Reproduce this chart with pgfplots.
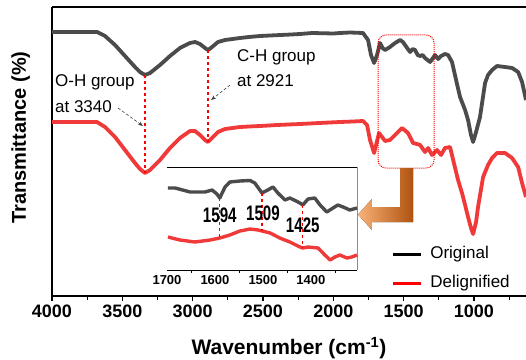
\documentclass[border=0pt]{standalone}
\usepackage{fontspec}
\setmainfont{Liberation Sans}
\usepackage{pgfplots}
\pgfplotsset{compat=1.18}
\usetikzlibrary{arrows.meta}
\definecolor{orig}{RGB}{75,75,75}
\definecolor{delig}{RGB}{240,58,58}
\definecolor{orgL}{RGB}{248,178,120}
\definecolor{orgD}{RGB}{176,82,14}
\begin{document}
\begin{tikzpicture}
\begin{axis}[
  at={(0pt,0pt)}, anchor=south west,
  scale only axis, width=474pt, height=289pt,
  x dir=reverse, xmin=630, xmax=4000, ymin=-296, ymax=-7,
  axis x line=box, axis y line=left,
  axis line style={-, line width=2.2pt},
  xtick={1000,1500,...,4000}, minor xtick={750,1250,...,3750},
  xtick pos=left, tick align=outside, major tick length=5pt, minor tick length=4pt,
  tick style={line width=1.2pt, black},
  ytick=\empty,
  xticklabel style={font=\fontsize{18}{21}\selectfont\bfseries},
  /pgf/number format/assume math mode=true, /pgf/number format/1000 sep={},
  xlabel={Wavenumber (cm\textsuperscript{-1})},
  every axis x label/.style={at={(axis description cs:0.5,-0.204)}, anchor=base, font=\fontsize{21}{24}\selectfont\bfseries},
  ylabel={Transmittance (\%)},
  every axis y label/.style={at={(axis description cs:-0.0549,0.548)}, rotate=90, anchor=base, font=\fontsize{20}{23}\selectfont\bfseries},
  clip=false,
  legend image code/.code={\draw[#1, line width=3pt] (0pt,0pt) -- (28pt,0pt);},
  legend style={draw=none, fill=none, inner sep=0pt, at={(axis cs:1589,-245)}, anchor=north west,
    font=\fontsize{17}{20}\selectfont, row sep=11pt,
    nodes={inner sep=1pt, text height=12pt, text depth=4pt},
    /tikz/every odd column/.append style={column sep=7pt},
    /tikz/every even column/.append style={column sep=16pt}},
  legend cell align=left,
]
\addlegendimage{black}
\addlegendimage{red}
\addplot[orig, line width=3.8pt, line join=round, forget plot] coordinates {
(4000,-32) (3680,-32) (3623,-36) (3552,-45) (3481,-56) (3410,-67) (3374,-72) (3339,-75) (3303,-73) (3232,-65) (3161,-56) (3090,-48) (3019,-43) (2983,-42) (2948,-44) (2912,-48) (2891,-50) (2862,-47) (2820,-42) (2770,-40) (2663,-38) (2600,-37) (2521,-36) (2450,-35.5) (2300,-34.5) (2237,-34) (2150,-33) (2000,-33.5) (1952,-33) (1880,-32.5) (1789,-33) (1753,-40) (1732,-55) (1710,-63) (1689,-55) (1668,-43) (1650,-48) (1632,-50) (1597,-47) (1561,-43) (1525,-40) (1505,-42) (1490,-45) (1470,-49) (1454,-52) (1435,-49) (1419,-50) (1400,-55) (1383,-56) (1365,-55) (1348,-58) (1330,-60) (1312,-62) (1291,-58) (1277,-55) (1255,-59) (1234,-56) (1206,-54) (1184,-55) (1156,-62) (1127,-80) (1099,-97) (1063,-110) (1042,-120) (1021,-135) (1006,-142) (985,-132) (957,-117) (921,-83) (900,-75) (871,-70) (836,-66) (779,-67) (729,-68) (686,-72) (658,-82) (630,-100)
};
\addplot[delig, line width=3.8pt, line join=round, forget plot] coordinates {
(4000,-122) (3680,-122) (3623,-127) (3552,-137) (3481,-150) (3410,-163) (3374,-169) (3339,-173) (3303,-170) (3232,-160) (3161,-148) (3090,-138) (3019,-131) (2983,-131) (2948,-135) (2912,-140) (2891,-142) (2862,-138) (2820,-132) (2770,-129) (2663,-127) (2600,-126.5) (2521,-126) (2400,-125) (2237,-124) (2100,-123) (1952,-122) (1860,-121.5) (1789,-121) (1760,-125) (1739,-140) (1710,-153) (1696,-145) (1675,-133) (1632,-141) (1597,-140) (1547,-133) (1511,-128) (1469,-133) (1433,-143) (1405,-144) (1383,-145) (1348,-152) (1326,-148) (1298,-155) (1262,-150) (1234,-155) (1206,-148) (1170,-147) (1134,-168) (1113,-180) (1085,-193) (1063,-205) (1042,-217) (1021,-228) (1006,-234) (985,-222) (971,-207) (935,-177) (900,-165) (871,-158) (836,-153) (779,-153) (729,-158) (686,-167) (658,-183) (630,-197)
};
\legend{Original, Delignified}
% peak markers
\draw[red, dashed, line width=1.2pt] (axis cs:3339,-75) -- (axis cs:3339,-173);
\draw[red, dashed, line width=1.2pt] (axis cs:2891,-50) -- (axis cs:2891,-142);
\node[anchor=base west, inner sep=0pt, font=\fontsize{17}{20}\selectfont] at (axis cs:3979,-87) {O-H group};
\node[anchor=base west, inner sep=0pt, font=\fontsize{17}{20}\selectfont] at (axis cs:3979,-112) {at 3340};
\node[anchor=base west, inner sep=0pt, font=\fontsize{17}{20}\selectfont] at (axis cs:2685,-62) {C-H group};
\node[anchor=base west, inner sep=0pt, font=\fontsize{17}{20}\selectfont] at (axis cs:2685,-87) {at 2921};
\draw[-{Stealth[length=5pt]}, densely dashed, line width=0.6pt, black!75] (axis cs:3531,-108) -- (axis cs:3353,-126);
\draw[-{Stealth[length=5pt]}, densely dashed, line width=0.6pt, black!75] (axis cs:2734,-85) -- (axis cs:2869,-100);
% zoom box and arrow
\draw[red, densely dotted, line width=1pt, rounded corners=8pt] (axis cs:1682,-35) rectangle (axis cs:1284,-168);
\fill[left color=orgL, right color=orgD] (axis cs:1824,-214.5) -- (axis cs:1725,-199) -- (axis cs:1725,-207) -- (axis cs:1525,-207) -- (axis cs:1525,-168) -- (axis cs:1433,-168) -- (axis cs:1433,-222) -- (axis cs:1725,-222) -- (axis cs:1725,-230) -- cycle;
\end{axis}
\begin{axis}[
  at={(115pt,26pt)}, anchor=south west,
  scale only axis, width=190pt, height=103pt,
  x dir=reverse, xmin=1304, xmax=1700, ymin=-270, ymax=-167,
  axis x line=box, axis y line=right,
  x axis line style={-, line width=1pt, black},
  y axis line style={-, line width=0.8pt, black!45},
  xtick={1400,1500,1600,1700}, minor xtick={1350,1450,1550,1650},
  xtick pos=left, tick align=outside, major tick length=0pt, minor tick length=3pt,
  tick style={line width=0.6pt, black},
  ytick=\empty,
  xticklabel style={font=\fontsize{13}{15}\selectfont\bfseries, yshift=-2pt},
  /pgf/number format/assume math mode=true, /pgf/number format/1000 sep={},
  clip=false,
]
\addplot[orig, line width=3.4pt, line join=round] coordinates {
(1698,-188) (1683,-188) (1652,-192) (1621,-192) (1606,-190) (1596,-194) (1590,-198) (1579,-187) (1569,-182) (1548,-181) (1527,-180.5) (1517,-183) (1508,-189) (1502,-193) (1490,-190) (1479,-187) (1469,-193) (1454,-200) (1444,-198) (1431,-201) (1423,-203) (1417,-205) (1406,-199) (1392,-198) (1381,-205) (1367,-212) (1354,-208) (1344,-205) (1333,-207) (1319,-210) (1304,-208)
};
\addplot[delig, line width=3.4pt, line join=round] coordinates {
(1698,-237) (1673,-240) (1642,-242) (1610,-240) (1590,-238) (1569,-235) (1548,-231) (1527,-229) (1510,-230) (1502,-231) (1485,-233) (1465,-238) (1444,-242) (1423,-247) (1417,-248) (1406,-247) (1385,-248) (1371,-255) (1360,-260) (1350,-257) (1340,-255) (1325,-258) (1315,-257) (1304,-255)
};
\draw[red, dashed, line width=1.2pt] (axis cs:1590,-198) -- (axis cs:1590,-238);
\draw[red, dashed, line width=1.2pt] (axis cs:1502,-193) -- (axis cs:1502,-231);
\draw[red, dashed, line width=1.2pt] (axis cs:1417,-205) -- (axis cs:1417,-248);
\node[inner sep=0pt] at (axis cs:1590,-215) {\scalebox{0.72}[1]{\fontsize{21}{24}\selectfont\bfseries 1594}};
\node[inner sep=0pt] at (axis cs:1500,-213) {\scalebox{0.72}[1]{\fontsize{21}{24}\selectfont\bfseries 1509}};
\node[inner sep=0pt] at (axis cs:1417,-225) {\scalebox{0.72}[1]{\fontsize{21}{24}\selectfont\bfseries 1425}};
\end{axis}
\pgfresetboundingbox
\path[use as bounding box] (-52pt,-63pt) rectangle (474pt,296pt);
\end{tikzpicture}
\end{document}
